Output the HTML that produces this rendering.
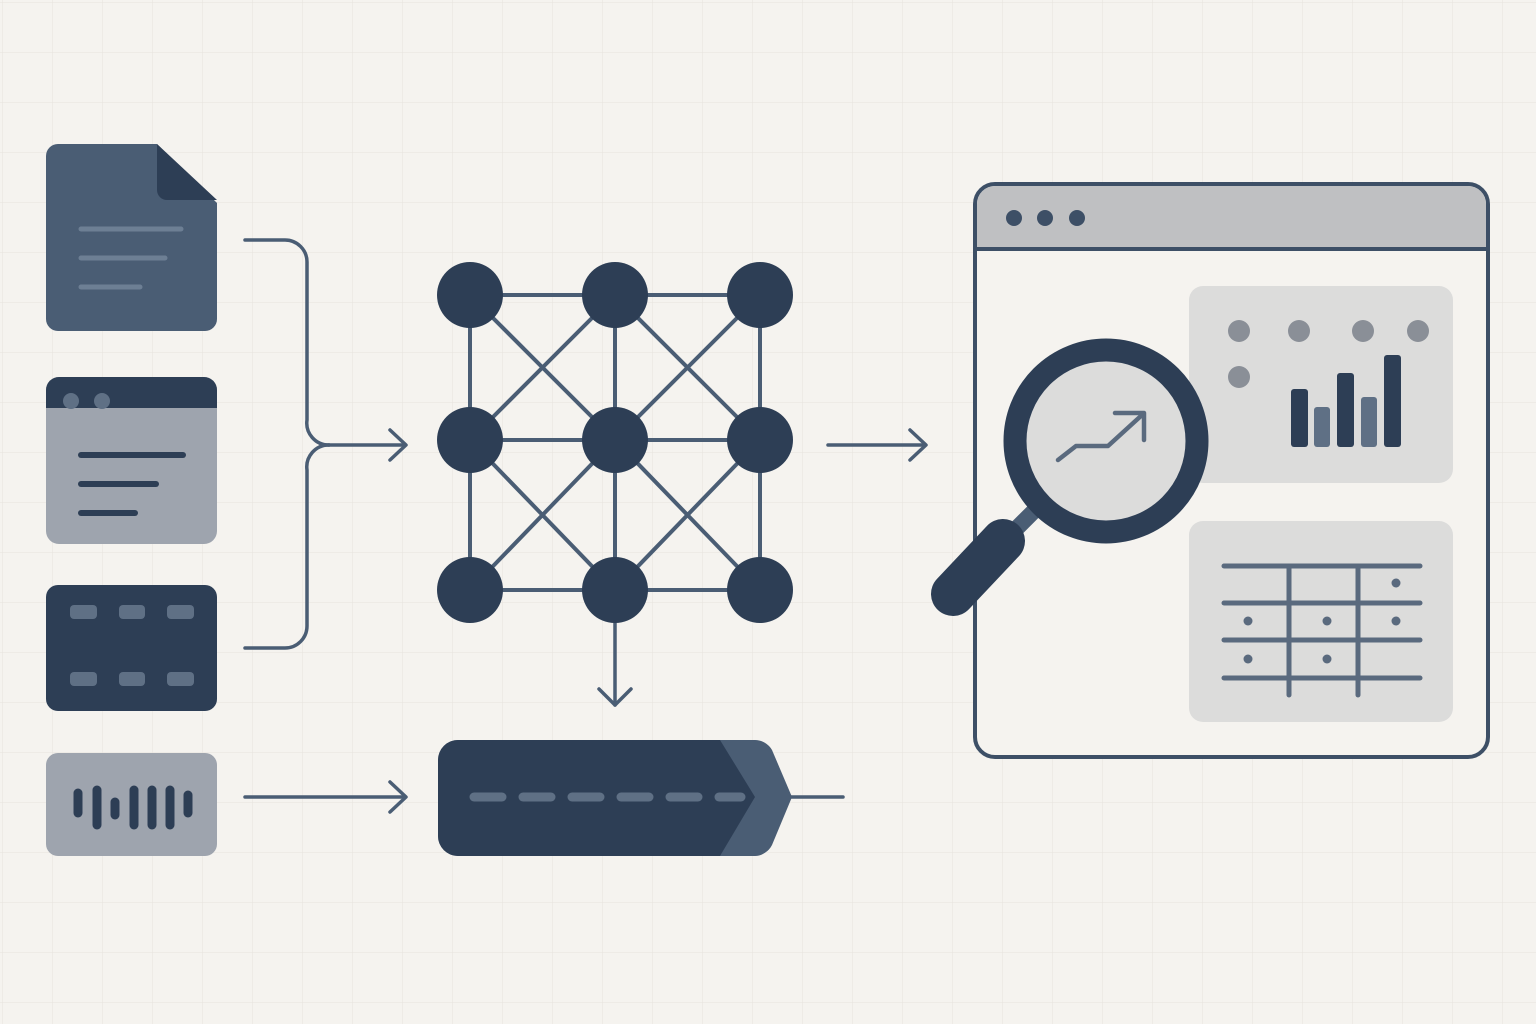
<!DOCTYPE html>
<html><head><style>
html,body{margin:0;padding:0;width:1536px;height:1024px;overflow:hidden;background:#f5f3ef;}
</style></head><body>
<svg width="1536" height="1024" viewBox="0 0 1536 1024" xmlns="http://www.w3.org/2000/svg">
<defs>
<pattern id="g" width="50" height="50" patternUnits="userSpaceOnUse" x="2" y="2">
<path d="M50 0H0V50" fill="none" stroke="#e6e3de" stroke-width="1"/>
</pattern>
</defs>
<rect width="1536" height="1024" fill="#f5f3ef"/>
<rect width="1536" height="1024" fill="url(#g)"/>

<!-- document -->
<path d="M58 144 H157 L217 203 V319 a12 12 0 0 1 -12 12 H58 a12 12 0 0 1 -12 -12 V156 a12 12 0 0 1 12 -12Z" fill="#4a5d74"/>
<path d="M157 144 V190 a10 10 0 0 0 10 10 H217 Z" fill="#2d3e55"/>
<g stroke="#6d7f94" stroke-width="5" stroke-linecap="round">
<line x1="81" y1="229" x2="181" y2="229"/><line x1="81" y1="258" x2="165" y2="258"/><line x1="81" y1="287" x2="140" y2="287"/>
</g>

<!-- browser icon -->
<rect x="46" y="377" width="171" height="167" rx="13" fill="#9ea4ae"/>
<path d="M59 377 H204 a13 13 0 0 1 13 13 V408 H46 V390 a13 13 0 0 1 13 -13Z" fill="#2d3e55"/>
<circle cx="71" cy="401" r="8" fill="#5f7085"/><circle cx="102" cy="401" r="8" fill="#5f7085"/>
<g stroke="#2d3e55" stroke-width="6" stroke-linecap="round">
<line x1="81" y1="455" x2="183" y2="455"/><line x1="81" y1="484" x2="156" y2="484"/><line x1="81" y1="513" x2="135" y2="513"/>
</g>

<!-- film -->
<rect x="46" y="585" width="171" height="126" rx="12" fill="#2d3e55"/>
<g fill="#5f7085">
<rect x="70" y="605" width="27" height="14" rx="4"/><rect x="119" y="605" width="26" height="14" rx="4"/><rect x="167" y="605" width="27" height="14" rx="4"/>
<rect x="70" y="672" width="27" height="14" rx="4"/><rect x="119" y="672" width="26" height="14" rx="4"/><rect x="167" y="672" width="27" height="14" rx="4"/>
</g>

<!-- audio -->
<rect x="46" y="753" width="171" height="103" rx="12" fill="#9ea4ae"/>
<g stroke="#2d3e55" stroke-width="9" stroke-linecap="round">
<line x1="78" y1="793" x2="78" y2="813"/><line x1="97" y1="790" x2="97" y2="825"/><line x1="115" y1="802" x2="115" y2="815"/>
<line x1="134" y1="790" x2="134" y2="825"/><line x1="152" y1="790" x2="152" y2="825"/><line x1="170" y1="790" x2="170" y2="825"/><line x1="188" y1="795" x2="188" y2="813"/>
</g>

<!-- connectors -->
<g fill="none" stroke="#4a5d74" stroke-width="3.5" stroke-linecap="round" stroke-linejoin="round">
<path d="M245 240 H285 a22 22 0 0 1 22 22 V420 a22 22 0 0 0 22 25"/>
<path d="M245 648 H285 a22 22 0 0 0 22 -22 V470 a22 22 0 0 1 22 -25"/>
<path d="M329 445 H405"/><path d="M390 430 L406 445 L390 460"/>
<path d="M828 445 H925"/><path d="M910 430 L926 445 L910 460"/>
<path d="M245 797 H405"/><path d="M390 782 L406 797 L390 812"/>
<path d="M615 600 V705"/><path d="M599 689 L615 705 L631 689"/>
<path d="M790 797 H843"/>
</g>

<!-- network -->
<g stroke="#4a5d74" stroke-width="4">
<line x1="470" y1="295" x2="760" y2="295"/><line x1="470" y1="440" x2="760" y2="440"/><line x1="470" y1="590" x2="760" y2="590"/>
<line x1="470" y1="295" x2="470" y2="590"/><line x1="615" y1="295" x2="615" y2="590"/><line x1="760" y1="295" x2="760" y2="590"/>
<line x1="470" y1="295" x2="615" y2="440"/><line x1="615" y1="295" x2="470" y2="440"/>
<line x1="615" y1="295" x2="760" y2="440"/><line x1="760" y1="295" x2="615" y2="440"/>
<line x1="470" y1="440" x2="615" y2="590"/><line x1="615" y1="440" x2="470" y2="590"/>
<line x1="615" y1="440" x2="760" y2="590"/><line x1="760" y1="440" x2="615" y2="590"/>
</g>
<g fill="#2d3e55">
<circle cx="470" cy="295" r="33"/><circle cx="615" cy="295" r="33"/><circle cx="760" cy="295" r="33"/>
<circle cx="470" cy="440" r="33"/><circle cx="615" cy="440" r="33"/><circle cx="760" cy="440" r="33"/>
<circle cx="470" cy="590" r="33"/><circle cx="615" cy="590" r="33"/><circle cx="760" cy="590" r="33"/>
</g>

<!-- pipeline -->
<path d="M458 740 H755 a20 20 0 0 1 17 10 L792 797 L772 845 a20 20 0 0 1 -17 11 H458 a20 20 0 0 1 -20 -20 V760 a20 20 0 0 1 20 -20Z" fill="#4a5d74"/>
<path d="M458 740 H720 L755 797 L720 856 H458 a20 20 0 0 1 -20 -20 V760 a20 20 0 0 1 20 -20Z" fill="#2d3e55"/>
<g stroke="#5f7085" stroke-width="9" stroke-linecap="round">
<line x1="474" y1="797" x2="502" y2="797"/><line x1="523" y1="797" x2="551" y2="797"/><line x1="572" y1="797" x2="600" y2="797"/>
<line x1="621" y1="797" x2="649" y2="797"/><line x1="670" y1="797" x2="698" y2="797"/><line x1="719" y1="797" x2="741" y2="797"/>
</g>

<!-- big browser -->
<rect x="975" y="184" width="513" height="573" rx="20" fill="#f5f3ef" stroke="#3d4f66" stroke-width="4"/>
<path d="M995 186 H1468 a18 18 0 0 1 18 18 V248 H977 V204 a18 18 0 0 1 18 -18Z" fill="#bfc0c2"/>
<line x1="977" y1="249" x2="1486" y2="249" stroke="#3d4f66" stroke-width="4"/>
<circle cx="1014" cy="218" r="8" fill="#3d4f66"/><circle cx="1045" cy="218" r="8" fill="#3d4f66"/><circle cx="1077" cy="218" r="8" fill="#3d4f66"/>

<rect x="1189" y="286" width="264" height="197" rx="14" fill="#dcdcdb"/>
<g fill="#8a8f97"><circle cx="1239" cy="331" r="11"/><circle cx="1299" cy="331" r="11"/><circle cx="1363" cy="331" r="11"/><circle cx="1418" cy="331" r="11"/><circle cx="1239" cy="377" r="11"/></g>
<rect x="1291" y="389" width="17" height="58" rx="3" fill="#2d3e55"/>
<rect x="1314" y="407" width="16" height="40" rx="3" fill="#5f7085"/>
<rect x="1337" y="373" width="17" height="74" rx="3" fill="#2d3e55"/>
<rect x="1361" y="397" width="16" height="50" rx="3" fill="#5f7085"/>
<rect x="1384" y="355" width="17" height="92" rx="3" fill="#2d3e55"/>

<rect x="1189" y="521" width="264" height="201" rx="14" fill="#dcdcdb"/>
<g stroke="#5a6a7e" stroke-width="5" stroke-linecap="round">
<line x1="1224" y1="566" x2="1420" y2="566"/><line x1="1224" y1="603" x2="1420" y2="603"/><line x1="1224" y1="640" x2="1420" y2="640"/><line x1="1224" y1="678" x2="1420" y2="678"/>
<line x1="1289" y1="566" x2="1289" y2="695"/><line x1="1358" y1="566" x2="1358" y2="695"/>
</g>
<g fill="#5a6a7e"><circle cx="1396" cy="583" r="4.5"/><circle cx="1248" cy="621" r="4.5"/><circle cx="1327" cy="621" r="4.5"/><circle cx="1396" cy="621" r="4.5"/><circle cx="1248" cy="659" r="4.5"/><circle cx="1327" cy="659" r="4.5"/></g>

<!-- magnifier -->
<line x1="1035" y1="510" x2="995" y2="550" stroke="#4a5d74" stroke-width="16"/>
<line x1="1003" y1="541" x2="953" y2="594" stroke="#2d3e55" stroke-width="44" stroke-linecap="round"/>
<circle cx="1106" cy="441" r="91" fill="#dcdcdb" stroke="#2d3e55" stroke-width="23"/>
<g fill="none" stroke="#5a6a7e" stroke-width="4.5" stroke-linecap="round" stroke-linejoin="round">
<path d="M1058 460 L1076 446 H1108 L1142 415"/><path d="M1115 413 H1144 V440"/>
</g>
</svg>
</body></html>
